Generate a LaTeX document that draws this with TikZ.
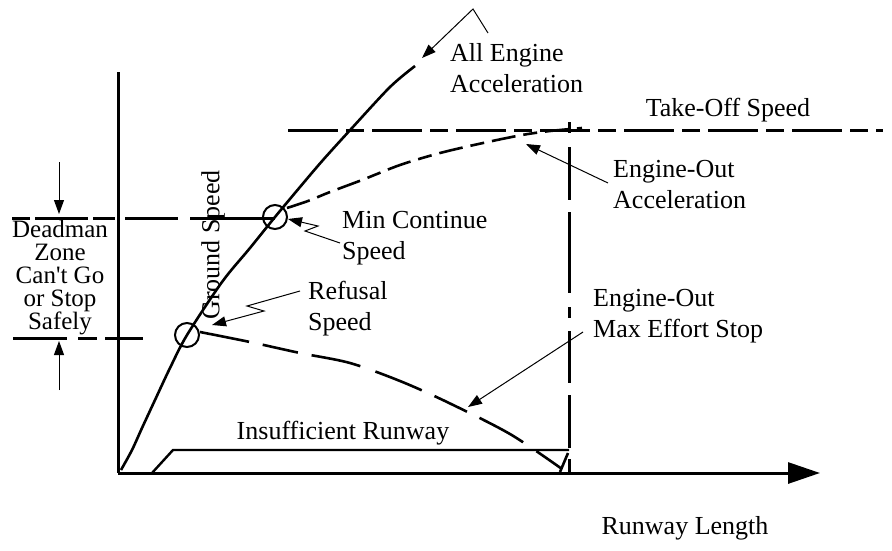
\documentclass[tikz,border=0pt]{standalone}
\usepackage{fontspec}
\setmainfont{Liberation Serif}[Ligatures=TeXOff]
\usetikzlibrary{arrows.meta}
\tikzset{
  lbl/.style={font=\fontsize{26}{31}\selectfont, inner sep=0pt, align=left},
  axisline/.style={line width=3pt, -{Triangle[length=32pt,width=21pt]}},
  curveline/.style={line width=2.6pt, line join=round},
  refline/.style={line width=3pt},
  boxline/.style={line width=2.4pt},
  ann/.style={line width=1pt, -{Triangle[length=14pt,width=10pt]}},
  ring/.style={circle, draw, line width=2pt, minimum size=24pt, inner sep=0pt},
}
\begin{document}
\begin{tikzpicture}[x=1pt,y=-1pt]
\useasboundingbox (0,0) rectangle (892,550);

% axes
\coordinate (O) at (118,473);
\coordinate (Ytop) at (118,72);
\coordinate (Xend) at (820,473);
\draw[line width=3pt] (Ytop) -- (O);
\draw[axisline] (O) -- (Xend);

% reference lines
\draw[refline, dash pattern=on 50pt off 8pt on 18pt off 8pt] (288,130) -- (883,130);
\draw[refline, dash pattern=on 11pt off 14pt on 53pt off 12pt on 81pt off 14pt on 11pt off 13pt on 52pt off 12pt on 53pt] (569,122) -- (569,473);
\draw[refline, dash pattern=on 18pt off 5pt on 53pt off 5pt on 22pt off 10pt on 53pt off 12pt on 90pt] (12,218) -- (275,218);
\draw[refline, dash pattern=on 54pt off 11pt on 19pt off 8pt on 38pt] (13,338) -- (143,338);

% insufficient runway box
\draw[boxline] (152,473) -- (173,450) -- (569,450);
\node[lbl] (lblIns) at (343,433) {Insufficient Runway};

% circles
\node[ring] (cMin) at (275,217) {};
\node[ring] (cRef) at (187,335) {};

% all engine curve
\draw[curveline] plot[smooth, tension=0.5] coordinates {(121,470) (132,450) (142,428) (155,400) (170,368) (187,335) (222,282) (250,248) (275,217) (300,187) (323,160) (352,128) (390,87) (415,66)};

% engine-out acceleration
\draw[curveline, dash pattern=on 24pt off 8pt on 14pt off 8pt] plot[smooth, tension=0.5] coordinates {(287,208) (308,201) (330,192) (362,180) (400,165) (440,153) (483,143) (522,135) (550,131) (582,128)};

% engine-out max effort stop
\draw[curveline, dash pattern=on 50pt off 14pt on 36pt off 14pt on 50pt off 16pt] plot[smooth, tension=0.5] coordinates {(200,332) (250,342) (300,353) (350,363) (400,381) (447,402) (510,434) (562,469)};
\draw[curveline] (560,472) -- (568,453);

% labels
\node[lbl, anchor=west] (lblAll) at (450,68) {All Engine\\Acceleration};
\node[lbl] (lblTO) at (728,110) {Take-Off Speed};
\node[lbl, anchor=west] (lblEOA) at (613,185) {Engine-Out\\Acceleration};
\node[lbl, anchor=west] (lblMin) at (342,238) {Min Continue\\Speed};
\node[lbl, anchor=west] (lblRef) at (308,309) {Refusal\\Speed};
\node[lbl, anchor=west] (lblStop) at (593,316) {Engine-Out\\Max Effort Stop};
\node[lbl, rotate=90] (lblGS) at (213,245) {Ground Speed};
\node[lbl] (lblRL) at (685,528) {Runway Length};
\node[font=\fontsize{25}{23}\selectfont, inner sep=0pt, align=center] (lblDead) at (60,278) {Deadman\\Zone\\Can't Go\\or Stop\\Safely};

% annotation arrows
\coordinate (aAll1) at (488,33);
\coordinate (aAll2) at (473,9);
\coordinate (aAllT) at (422,58);
\draw[ann] (aAll1) -- (aAll2) -- (aAllT);

\coordinate (aEOA) at (608,183);
\coordinate (aEOAT) at (526,144);
\draw[ann] (aEOA) -- (aEOAT);

\coordinate (aMin) at (340,243);
\draw[ann] (aMin) -- (305,231) -- (318,226) -- (cMin.east |- 0,219);

\coordinate (aRef) at (300,291);
\draw[ann] (aRef) -- (247,306) -- (264,311) -- (212,325);

\coordinate (aStop) at (583,332);
\coordinate (aStopT) at (468,407);
\draw[ann] (aStop) -- (aStopT);

\coordinate (dTop) at (59,162);
\coordinate (dBot) at (59,390);
\draw[ann] (dTop) -- (59,214);
\draw[ann] (dBot) -- (59,341);
\end{tikzpicture}
\end{document}
